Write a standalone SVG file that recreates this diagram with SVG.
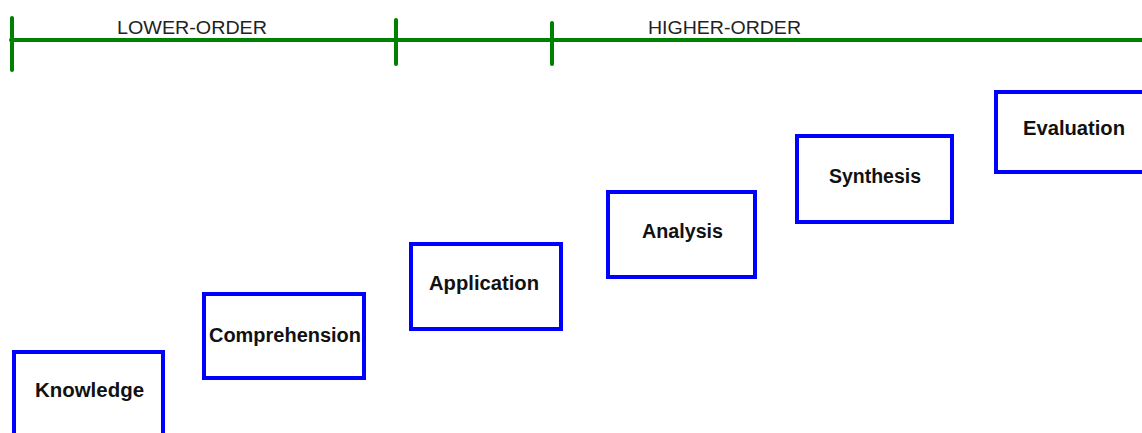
<svg xmlns="http://www.w3.org/2000/svg" width="1142" height="433" viewBox="0 0 1142 433">
<style>
.axis{stroke:#008000;stroke-width:4;stroke-linecap:round;fill:none}
.hdr{font-family:"Liberation Sans",Arial,sans-serif;font-size:19px;fill:#222}
.box{fill:#fff;stroke:#0000ff;stroke-width:4}
.lbl{font-family:"Liberation Sans",Arial,sans-serif;font-size:20px;font-weight:bold;fill:#111;text-anchor:middle}
</style>
<rect width="1142" height="433" fill="#fff"/>
<g id="axis">
<line class="axis" x1="11" y1="40" x2="1145" y2="40"/>
<line class="axis" x1="12" y1="18" x2="12" y2="70"/>
<line class="axis" x1="396" y1="20" x2="396" y2="64"/>
<line class="axis" x1="552" y1="23" x2="552" y2="64"/>
<text class="hdr" x="117" y="34" textLength="150" lengthAdjust="spacingAndGlyphs">LOWER-ORDER</text>
<text class="hdr" x="648" y="34" textLength="153" lengthAdjust="spacingAndGlyphs">HIGHER-ORDER</text>
</g>
<g id="knowledge"><rect class="box" x="14" y="352" width="149" height="100"/><text class="lbl" x="89.5" y="397" textLength="109" lengthAdjust="spacingAndGlyphs">Knowledge</text></g>
<g id="comprehension"><rect class="box" x="204" y="294" width="160" height="84"/><text class="lbl" x="285" y="342" textLength="152" lengthAdjust="spacingAndGlyphs">Comprehension</text></g>
<g id="application"><rect class="box" x="411" y="244" width="150" height="85"/><text class="lbl" x="484" y="290" textLength="110" lengthAdjust="spacingAndGlyphs">Application</text></g>
<g id="analysis"><rect class="box" x="608" y="192" width="147" height="85"/><text class="lbl" x="682.5" y="238" textLength="81" lengthAdjust="spacingAndGlyphs">Analysis</text></g>
<g id="synthesis"><rect class="box" x="797" y="136" width="155" height="86"/><text class="lbl" x="875" y="183" textLength="92" lengthAdjust="spacingAndGlyphs">Synthesis</text></g>
<g id="evaluation"><rect class="box" x="996" y="92" width="160" height="80"/><text class="lbl" x="1074" y="135" textLength="102" lengthAdjust="spacingAndGlyphs">Evaluation</text></g>
</svg>
